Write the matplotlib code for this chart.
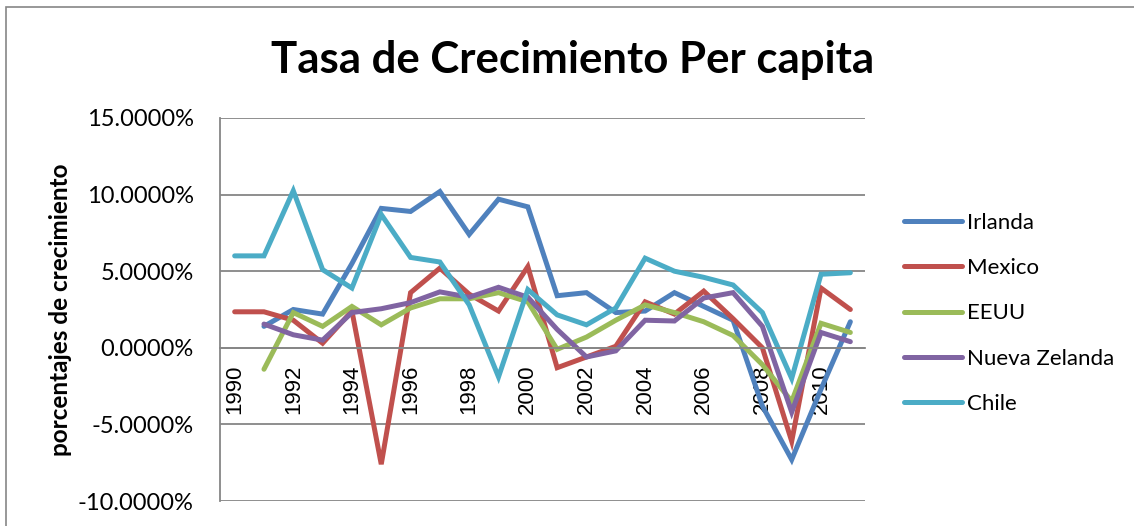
import numpy as np
import matplotlib
matplotlib.use("Agg")
import matplotlib.pyplot as plt
from matplotlib.patches import Rectangle

# datos (% de crecimiento per capita)
years = list(range(1990, 2012))
irlanda = [np.nan, 1.4, 2.5, 2.2, 5.5, 9.1, 8.9, 10.2, 7.4, 9.7, 9.2,
           3.4, 3.6, 2.3, 2.4, 3.6, 2.7, 1.8, -3.8, -7.3, -2.7, 1.7]
mexico = [2.35, 2.35, 1.8, 0.3, 2.4, -7.6, 3.6, 5.2, 3.5, 2.4, 5.3,
          -1.3, -0.6, 0.1, 3.0, 2.2, 3.7, 1.9, 0.0, -6.1, 3.9, 2.5]
eeuu = [np.nan, -1.4, 2.3, 1.4, 2.7, 1.5, 2.6, 3.2, 3.2, 3.6, 3.0,
        -0.1, 0.7, 1.8, 2.8, 2.3, 1.7, 0.8, -1.1, -3.5, 1.6, 1.0]
nueva_zelanda = [np.nan, 1.55, 0.85, 0.5, 2.3, 2.55, 2.95, 3.65, 3.3, 3.95, 3.3,
                 1.2, -0.6, -0.2, 1.8, 1.75, 3.25, 3.6, 1.4, -4.2, 1.0, 0.4]
chile = [6.0, 6.0, 10.25, 5.1, 3.9, 8.7, 5.9, 5.6, 2.8, -1.9, 3.8,
         2.15, 1.5, 2.6, 5.85, 5.0, 4.6, 4.1, 2.3, -2.0, 4.8, 4.9]

series = [("Irlanda", irlanda, "#4F81BD"),
          ("Mexico", mexico, "#C0504D"),
          ("EEUU", eeuu, "#9BBB59"),
          ("Nueva Zelanda", nueva_zelanda, "#8064A2"),
          ("Chile", chile, "#4BACC6")]

calibri = ["Lato", "DejaVu Sans"]

fig = plt.figure(figsize=(11.34, 5.26), dpi=100)
# marco exterior del grafico
fig.patches.append(Rectangle((6 / 1134, -0.1), 1.2, 1.1 - 7 / 526,
                             transform=fig.transFigure, fill=False,
                             edgecolor="#868686", linewidth=1.2))

ax = fig.add_axes([220 / 1134, 1 - 501 / 526, 645 / 1134, 383 / 526])
# eje horizontal cruza en 0 (antes de configurar las etiquetas)
ax.spines["bottom"].set_position(("data", 0))

x = np.arange(len(years))
for name, vals, col in series:
    ax.plot(x, vals, color=col, linewidth=3.6, label=name,
            solid_capstyle="round", solid_joinstyle="miter")

ax.set_xlim(-0.5, len(years) - 0.5)
ax.set_ylim(-10, 15)
ax.set_yticks([-10, -5, 0, 5, 10, 15])
ax.set_yticklabels([f"{v:.4f}%" for v in [-10, -5, 0, 5, 10, 15]],
                   fontsize=17, family=calibri)
ax.grid(axis="y", color="#868686", linewidth=1.3)
ax.set_axisbelow(True)

ax.set_xticks(x[::2])
ax.set_xticklabels([str(y) for y in years[::2]], rotation=90,
                   fontsize=16, family=["Liberation Sans", "DejaVu Sans"],
                   va="top")
ax.spines["bottom"].set_color("#868686")
ax.spines["bottom"].set_linewidth(1.3)
ax.spines["left"].set_color("#868686")
ax.spines["left"].set_linewidth(1.3)
ax.spines["top"].set_visible(False)
ax.spines["right"].set_visible(False)
ax.tick_params(axis="x", length=0, pad=12)
ax.tick_params(axis="y", length=0, pad=19)

ax.set_ylabel("porcentajes de crecimiento", fontsize=17.5, fontweight="bold",
              family=calibri, labelpad=4)

fig.text(0.505, 0.885, "Tasa de Crecimiento Per capita", ha="center",
         va="center", fontsize=31.5, fontweight="bold", family=calibri)

leg = ax.legend(loc="upper left", bbox_to_anchor=(1.03, 0.805), frameon=False,
                prop={"family": calibri, "size": 16},
                handlelength=2.6, handletextpad=0.2, labelspacing=1.14)

fig.savefig("out.png", dpi=100)
